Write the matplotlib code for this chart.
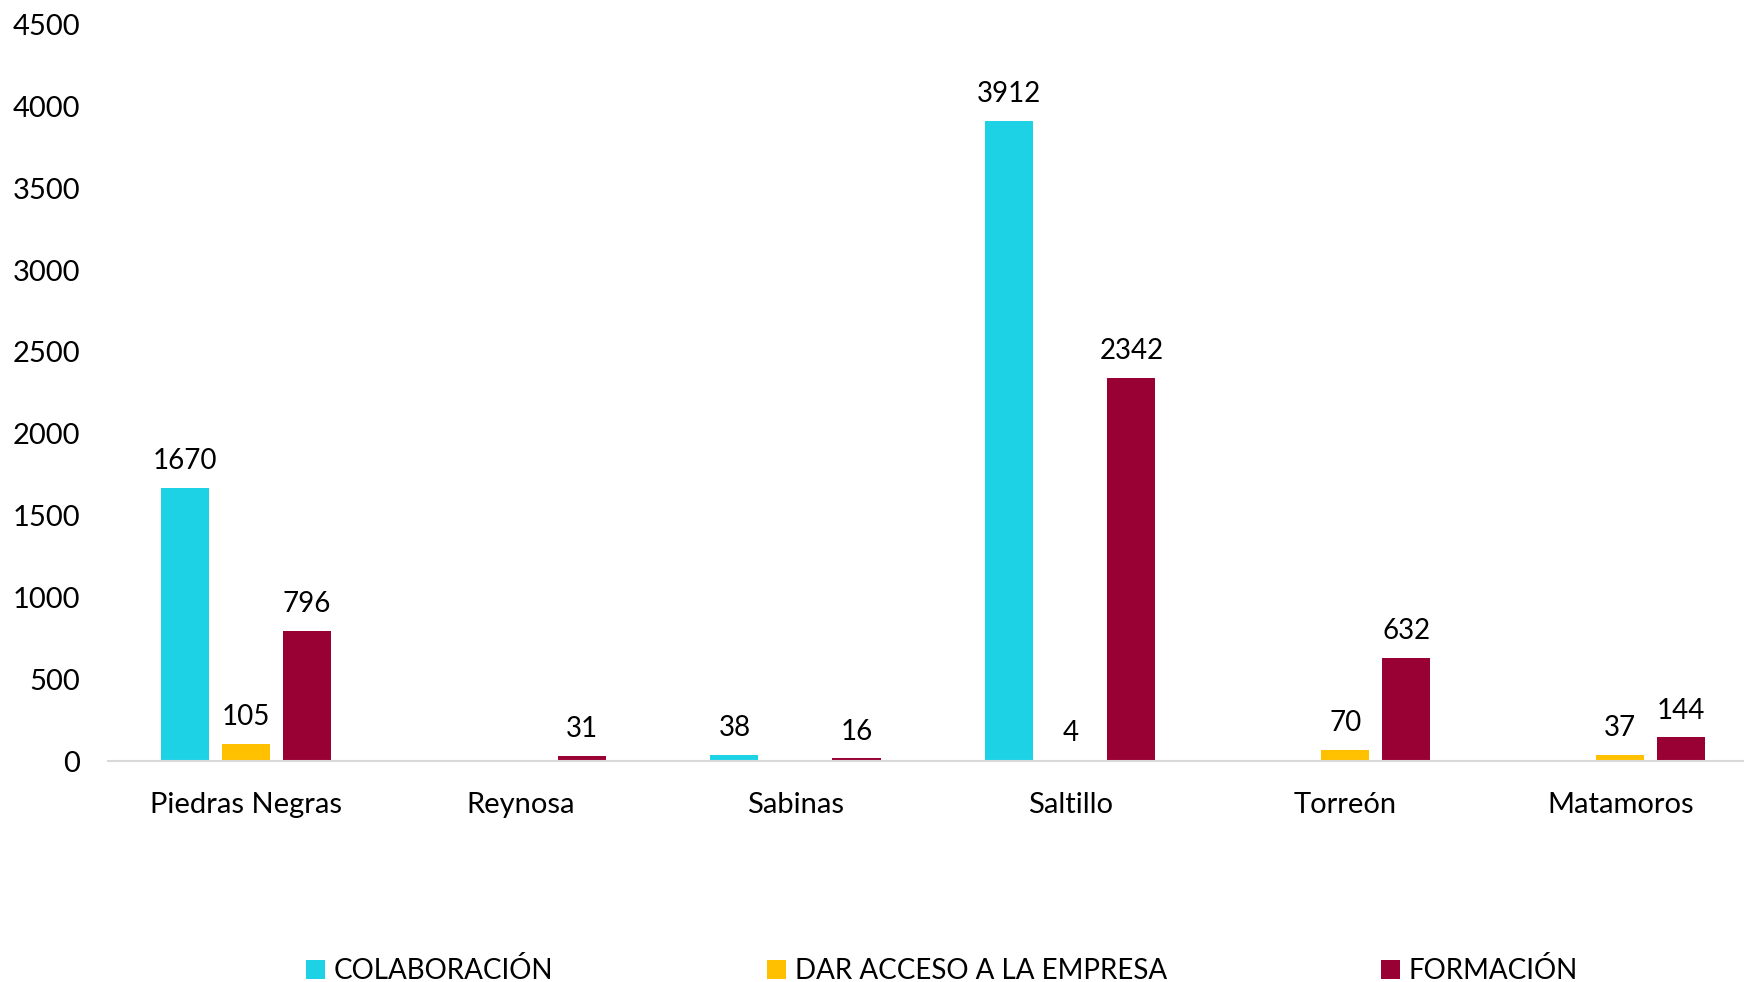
import numpy as np
import matplotlib.pyplot as plt

plt.rcParams['font.family'] = ['Lato', 'DejaVu Sans']

ciudades = ['Piedras Negras', 'Reynosa', 'Sabinas', 'Saltillo', 'Torreón', 'Matamoros']
colaboracion = [1670, None, 38, 3912, None, None]
dar_acceso = [105, None, None, 4, 70, 37]
formacion = [796, 31, 16, 2342, 632, 144]

series = [('COLABORACIÓN', colaboracion, '#1ED2E6'),
          ('DAR ACCESO A LA EMPRESA', dar_acceso, '#FFC000'),
          ('FORMACIÓN', formacion, '#990033')]

fig = plt.figure(figsize=(17.44, 9.82), dpi=100)
ax = fig.add_axes([0.062, 0.225, 0.938, 0.75])

x = np.arange(len(ciudades))
w = 0.175
off = 0.222
for i, (nombre, vals, color) in enumerate(series):
    v = np.array([np.nan if a is None else a for a in vals], dtype=float)
    pos = x + (i - 1) * off
    ax.bar(pos, np.nan_to_num(v), width=w, color=color, label=nombre)
    for p, val in zip(pos, v):
        if not np.isnan(val):
            ax.text(p, val + 85, f'{int(val)}', ha='center', va='bottom', fontsize=20)

ax.set_ylim(0, 4500)
ax.set_yticks(np.arange(0, 4501, 500))
ax.set_xlim(-0.5, 5.45)
ax.set_xticks(x)
ax.set_xticklabels(ciudades)
ax.tick_params(axis='both', length=0, labelsize=21)
ax.tick_params(axis='x', pad=22)
ax.tick_params(axis='y', pad=20)
for s in ['top', 'right', 'left']:
    ax.spines[s].set_visible(False)
ax.spines['bottom'].set_color('#d9d9d9')
ax.spines['bottom'].set_linewidth(1.5)

fig.legend(loc='lower center', bbox_to_anchor=(0.54, -0.028), ncol=3, frameon=False,
           fontsize=20, columnspacing=7.7, handlelength=0.7, handleheight=0.7,
           handletextpad=0.3)

fig.savefig('out.png', dpi=100)
